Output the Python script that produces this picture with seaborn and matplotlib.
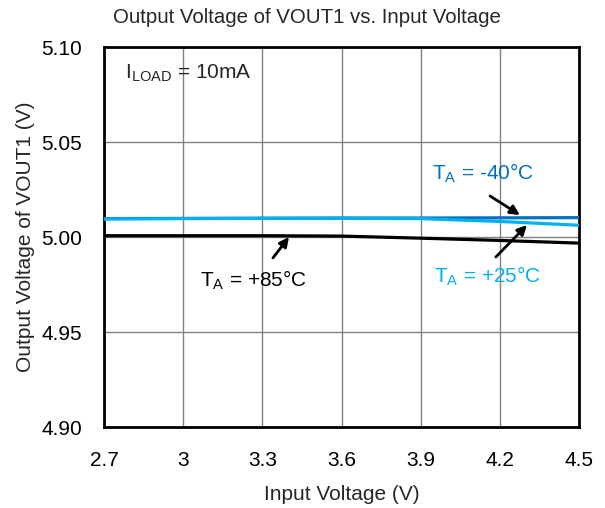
import matplotlib
matplotlib.use("Agg")
import matplotlib.pyplot as plt
import seaborn as sns
import pandas as pd

vin = [2.7, 3.0, 3.3, 3.6, 3.9, 4.2, 4.5]
v_m40 = [5.0097, 5.0098, 5.0099, 5.0100, 5.0100, 5.0101, 5.0102]
v_25 = [5.0095, 5.0097, 5.0098, 5.0098, 5.0097, 5.0082, 5.0062]
v_85 = [5.0007, 5.0007, 5.0007, 5.0005, 4.9994, 4.9982, 4.9968]
series = ["-40", "+25", "+85"]
colors = {"-40": "#0070C0", "+25": "#00B0F0", "+85": "#000000"}

xticks = [2.7, 3.0, 3.3, 3.6, 3.9, 4.2, 4.5]
xticklabels = ["2.7", "3", "3.3", "3.6", "3.9", "4.2", "4.5"]
yticks = [4.90, 4.95, 5.00, 5.05, 5.10]
yticklabels = ["4.90", "4.95", "5.00", "5.05", "5.10"]

df = pd.DataFrame({
    "Vin": vin * 3,
    "Vout": v_m40 + v_25 + v_85,
    "T": [series[0]] * len(vin) + [series[1]] * len(vin) + [series[2]] * len(vin),
})

sns.set_style("white")
plt.rcParams["font.family"] = ["Liberation Sans", "DejaVu Sans"]
FS = 15

fig = plt.figure(figsize=(6.05, 5.08), dpi=100)
ax = fig.add_axes([0.172, 0.1594, 0.785, 0.748])

ax.set_xlim(2.7, 4.5)
ax.set_ylim(4.90, 5.10)
ax.set_xticks(xticks)
ax.set_xticklabels(xticklabels)
ax.set_yticks(yticks)
ax.set_yticklabels(yticklabels)
ax.grid(True, color="#808080", linewidth=1.0)
ax.set_axisbelow(True)

sns.lineplot(data=df[df["T"] == "+85"], x="Vin", y="Vout", color=colors["+85"],
             linewidth=2.3, ax=ax, legend=False, zorder=3)
sns.lineplot(data=df[df["T"] == "-40"], x="Vin", y="Vout", color=colors["-40"],
             linewidth=2.3, ax=ax, legend=False, zorder=3)
sns.lineplot(data=df[df["T"] == "+25"], x="Vin", y="Vout", color=colors["+25"],
             linewidth=2.3, ax=ax, legend=False, zorder=4)

for s in ax.spines.values():
    s.set_color("black")
    s.set_linewidth(2)

ax.tick_params(axis="y", labelsize=FS, length=0, pad=16, colors="black")
ax.tick_params(axis="x", labelsize=FS, length=0, pad=17, colors="black")
ax.set_xlabel("Input Voltage (V)", fontsize=FS, labelpad=11)
ax.set_ylabel("Output Voltage of VOUT1 (V)", fontsize=FS, labelpad=4)
fig.text(0.508, 0.966, "Output Voltage of VOUT1 vs. Input Voltage", fontsize=14.7,
         ha="center", va="center")

ax.text(0.044, 0.932, r"I$_{\mathregular{LOAD}}$ = 10mA", transform=ax.transAxes,
        fontsize=FS, va="center", ha="left")

arrow = dict(arrowstyle="-|>", color="black", lw=2, mutation_scale=14,
             shrinkA=0, shrinkB=0)
# -40
ax.text(4.136, 5.0337, r"T$_{\mathregular{A}}$ = -40°C", color=colors["-40"],
        fontsize=FS, ha="center", va="center")
ax.annotate("", xy=(4.276, 5.0116), xytext=(4.163, 5.0216), arrowprops=arrow)
# +25
ax.text(4.155, 4.9795, r"T$_{\mathregular{A}}$ = +25°C", color=colors["+25"],
        fontsize=FS, ha="center", va="center")
ax.annotate("", xy=(4.303, 5.0063), xytext=(4.185, 4.9895), arrowprops=arrow)
# +85
ax.text(3.265, 4.9774, r"T$_{\mathregular{A}}$ = +85°C", color="black",
        fontsize=FS, ha="center", va="center")
ax.annotate("", xy=(3.401, 5.0000), xytext=(3.340, 4.989), arrowprops=arrow)

fig.savefig("out.png", dpi=100)
